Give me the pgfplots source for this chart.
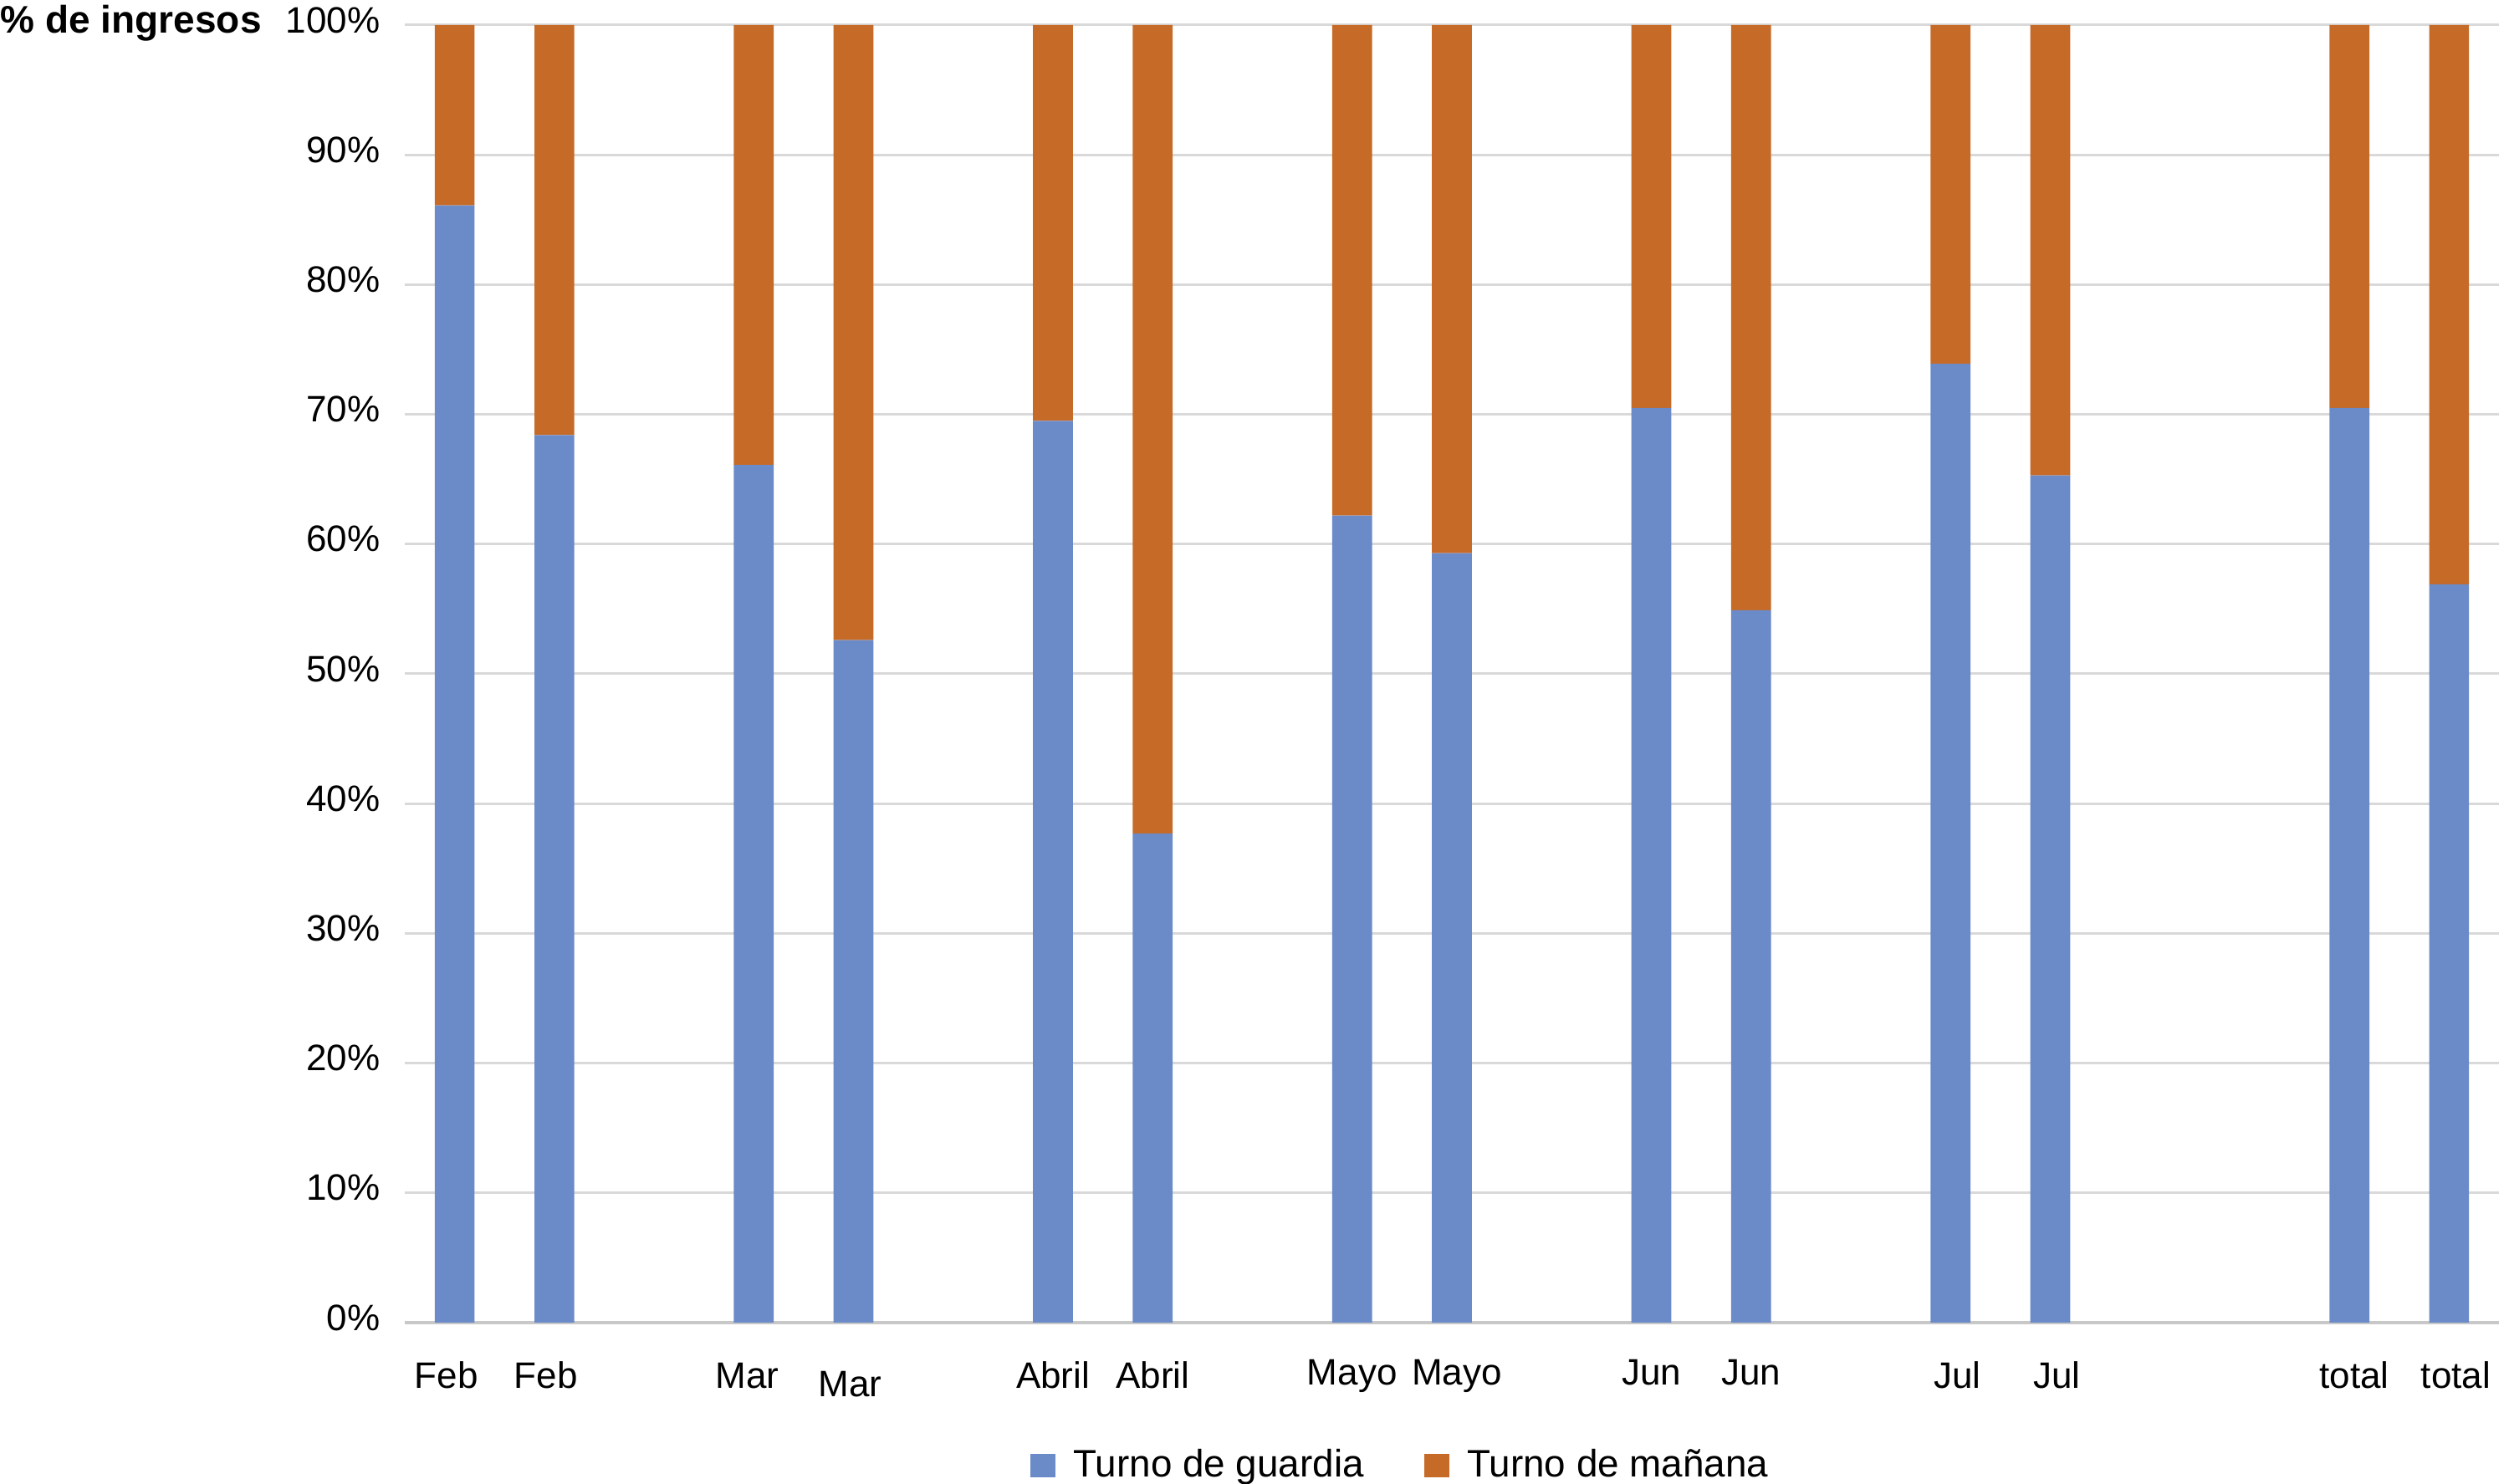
\documentclass[border=0pt]{standalone}
\usepackage{fontspec}
\setmainfont{Liberation Sans}
\usepackage{pgfplots}
\pgfplotsset{compat=1.18}
\definecolor{guardia}{RGB}{106,138,200}
\definecolor{manana}{RGB}{198,106,40}
\definecolor{gridc}{RGB}{217,217,217}
\definecolor{axisc}{RGB}{200,200,200}
\begin{document}
\fontsize{11}{13}\selectfont
\begin{tikzpicture}
\useasboundingbox (-121pt,-48.25pt) rectangle (629pt,395.5pt);
\begin{axis}[
  scale only axis, width=626pt, height=388pt,
  xmin=-0.5, xmax=20.5, ymin=0, ymax=100,
  ybar stacked, bar width=0.4,
  axis x line*=bottom, axis y line*=left,
  y axis line style={draw=none},
  x axis line style={draw=axisc, line width=0.8pt, -},
  xtick style={draw=none}, ytick style={draw=none},
  major tick length=0pt,
  ymajorgrids, major grid style={draw=gridc, line width=0.75pt},
  ytick={0,10,...,100},
  yticklabels={0\%,10\%,20\%,30\%,40\%,50\%,60\%,70\%,80\%,90\%,100\%},
  yticklabel style={font=\fontsize{11}{13}\selectfont, inner sep=0pt, xshift=-7.25pt, yshift=1.5pt},
  xtick={0,1,3,4,6,7,9,10,12,13,15,16,19,20},
  xticklabels={Feb\hspace*{5pt},Feb\hspace*{5pt},Mar\hspace*{4pt},\raisebox{-2.5pt}{Mar}\hspace*{2pt},Abril,Abril,\raisebox{1pt}{Mayo},\hspace*{3pt}\raisebox{1pt}{Mayo},\raisebox{1pt}{Jun},\raisebox{1pt}{Jun},\hspace*{4pt}Jul,\hspace*{4pt}Jul,\hspace*{3pt}total,\hspace*{4pt}total},
  xticklabel style={font=\fontsize{11}{13}\selectfont, inner sep=0pt, text height=8pt, text depth=2pt, anchor=north, yshift=-11.5pt},
  legend style={at={(0.4765,-0.11)}, anchor=center, draw=none, fill=none,
    legend columns=2, font=\fontsize{11.45}{13}\selectfont,
    /tikz/every odd column/.append style={column sep=3.4pt},
    /tikz/every even column/.append style={column sep=16pt}},
  legend image code/.code={\fill[#1] (0pt,-3.5pt) rectangle (7.5pt,3.5pt);},
]
\addplot[fill=guardia, draw=none] coordinates {
 (0,86.1) (1,68.4) (3,66.1) (4,52.6) (6,69.5) (7,37.7) (9,62.2) (10,59.3)
 (12,70.5) (13,54.9) (15,73.9) (16,65.3) (19,70.5) (20,56.9)};
\addlegendentry{Turno de guardia}
\addplot[fill=manana, draw=none] coordinates {
 (0,13.9) (1,31.6) (3,33.9) (4,47.4) (6,30.5) (7,62.3) (9,37.8) (10,40.7)
 (12,29.5) (13,45.1) (15,26.1) (16,34.7) (19,29.5) (20,43.1)};
\addlegendentry{Turno de mañana}
\end{axis}
\node[anchor=base west, inner sep=0pt, font=\fontsize{11.5}{13}\selectfont\bfseries] at (-121pt,385.6pt) {\% de ingresos};
\end{tikzpicture}
\end{document}
